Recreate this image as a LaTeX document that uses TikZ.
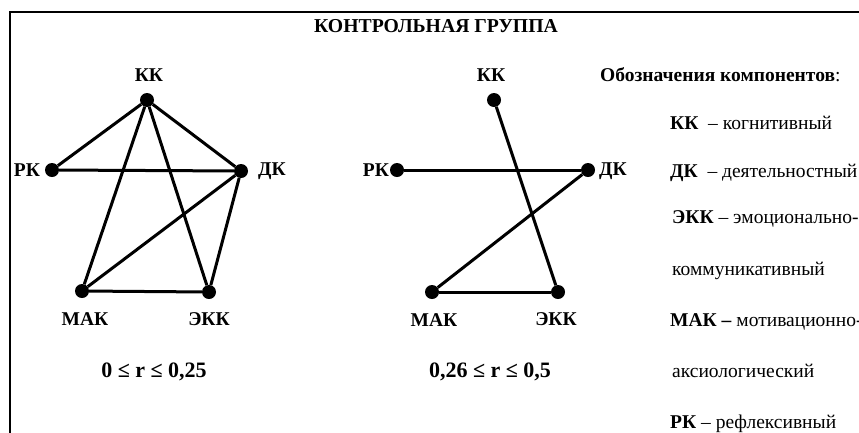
\documentclass[tikz,border=0pt]{standalone}
\usepackage{fontspec}
\setmainfont{Liberation Serif}
\usepackage{tikz}
\tikzset{
  compdot/.style={circle,fill=black,minimum size=14pt,inner sep=0pt},
  compname/.style={font=\fontsize{19.5}{22}\selectfont\bfseries,inner sep=0pt},
  linkedge/.style={line width=3pt,black},
  rangetext/.style={font=\fontsize{22}{26}\selectfont\bfseries,inner sep=0pt},
  legtext/.style={font=\fontsize{19.5}{23}\selectfont,anchor=base west,inner sep=0pt},
}

\begin{document}
\begin{tikzpicture}[x=1pt,y=-1pt]
  \clip (0,0) rectangle (859,432);
  \draw[line width=2pt] (10,12) rectangle (900,470);
  \node[font=\fontsize{19.7}{22}\selectfont\bfseries,inner sep=0pt] (nTitle) at (436,26) {КОНТРОЛЬНАЯ ГРУППА};
  % first graph
  \node[compdot] (nKK1) at (147,100) {};
  \node[compdot] (nRK1) at (52,170) {};
  \node[compdot] (nDK1) at (241,171) {};
  \node[compdot] (nMAK1) at (82,291) {};
  \node[compdot] (nEKK1) at (209,292) {};
  \node[compname] (tKK1) at (149,75) {КК};
  \node[compname] (tRK1) at (27,170) {РК};
  \node[compname] (tDK1) at (272,171) {ДК};
  \node[compname] (tMAK1) at (85,319) {МАК};
  \node[compname] (tEKK1) at (209,319) {ЭКК};
  \draw[linkedge] (nKK1) -- (nRK1);
  \draw[linkedge] (nKK1) -- (nDK1);
  \draw[linkedge] (nKK1) -- (nMAK1);
  \draw[linkedge] (nKK1) -- (nEKK1);
  \draw[linkedge] (nRK1) -- (nDK1);
  \draw[linkedge] (nDK1) -- (nMAK1);
  \draw[linkedge] (nDK1) -- (nEKK1);
  \draw[linkedge] (nMAK1) -- (nEKK1);
  \node[rangetext] (tRange1) at (154,372) {0 ≤ r ≤ 0,25};
  % second graph
  \node[compdot] (nKK2) at (494,100) {};
  \node[compdot] (nRK2) at (397,170) {};
  \node[compdot] (nDK2) at (588,170) {};
  \node[compdot] (nMAK2) at (432,292) {};
  \node[compdot] (nEKK2) at (558,292) {};
  \node[compname] (tKK2) at (491,75) {КК};
  \node[compname] (tRK2) at (376,170) {РК};
  \node[compname] (tDK2) at (613,171) {ДК};
  \node[compname] (tMAK2) at (434,320) {МАК};
  \node[compname] (tEKK2) at (556,319) {ЭКК};
  \draw[linkedge] (nRK2) -- (nDK2);
  \draw[linkedge] (nKK2) -- (nEKK2);
  \draw[linkedge] (nDK2) -- (nMAK2);
  \draw[linkedge] (nMAK2) -- (nEKK2);
  \node[rangetext] (tRange2) at (490,372) {0,26 ≤ r ≤ 0,5};
  % legend
  \node[legtext] (tLegHead) at (600,81) {\bfseries Обозначения компонентов\mdseries:};
  \node[legtext] (tLegKK) at (670,129) {\textbf{КК}\ \ – когнитивный};
  \node[legtext] (tLegDK) at (670,177) {\textbf{ДК}\ \ – деятельностный};
  \node[legtext] (tLegEKK) at (672,223) {\textbf{ЭКК} – эмоционально-};
  \node[legtext] (tLegEKKb) at (672,275) {коммуникативный};
  \node[legtext] (tLegMAK) at (670,326) {\textbf{МАК –} мотивационно-};
  \node[legtext] (tLegMAKb) at (672,377) {аксиологический};
  \node[legtext] (tLegRK) at (670,428) {\textbf{РК} – рефлексивный};
\end{tikzpicture}
\end{document}
